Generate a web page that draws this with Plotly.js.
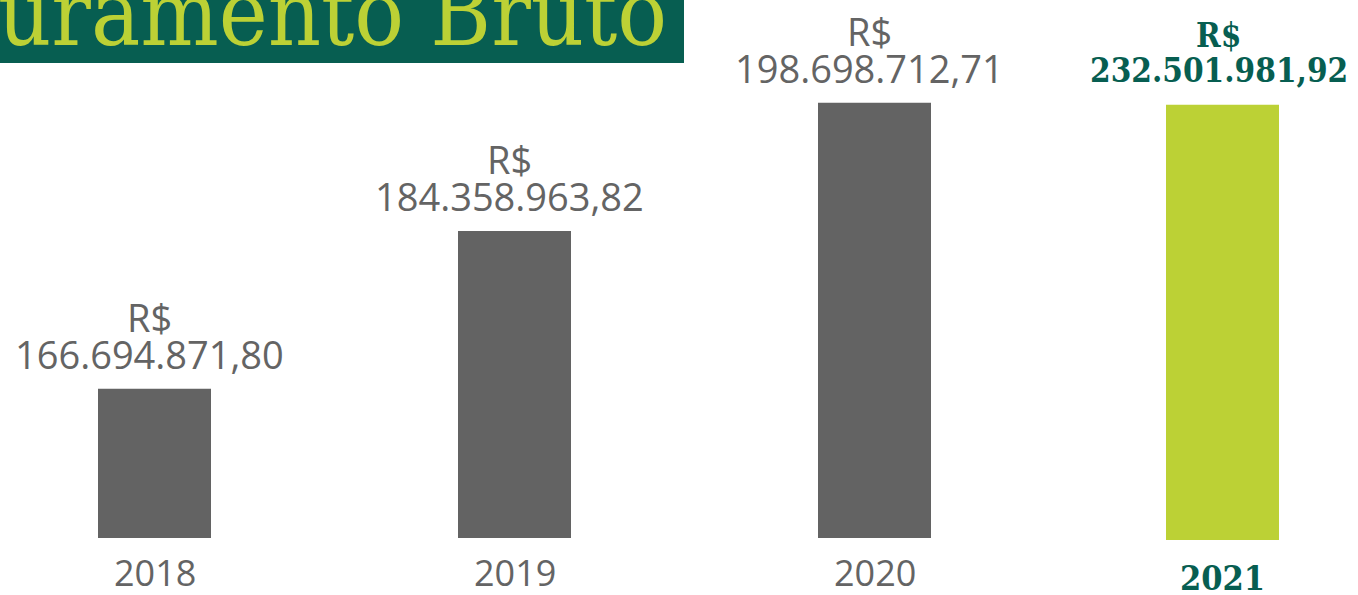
<!DOCTYPE html>
<html>
<head>
<meta charset="utf-8">
<script src="https://cdn.plot.ly/plotly-3.0.1.min.js"></script>
<style>html,body{margin:0;padding:0;background:#fff;overflow:hidden}#chart{width:1358px;height:595px}</style>
</head>
<body>
<div id="chart"></div>
<script>
// ---- data ----
var years = ['2018', '2019', '2020', '2021'];
var revenue = [166694871.80, 184358963.82, 198698712.71, 232501981.92];
var revenueLabels = ['166.694.871,80', '184.358.963,82', '198.698.712,71', '232.501.981,92'];
// height at which each bar is drawn in the original (2021 is drawn at the 2020 level)
var barLevel = [166694871.80, 184358963.82, 198698712.71, 198475000];
var currency = 'R$';
var titleText = 'uramento Bruto';

// ---- style ----
var W = 1358, H = 595;
var gray = '#636363', grayText = '#646464', lime = '#bcd135', green = '#075e51';
var baseVal = 150000000;
var pxPerUnit = 8.937e-6;
var basePx = 538;
var y0 = baseVal - (H - basePx) / pxPerUnit;
var y1 = y0 + H / pxPerUnit;
var catPx = 360, firstPx = 154.5;
var x0 = -firstPx / catPx, x1 = x0 + W / catPx;
var lastShift = -12; // 2021 column sits slightly left of an even spacing
var barW = 113 / catPx;

var n = years.length;
var traces = [
  {
    type: 'bar', x: years.slice(0, n - 1), y: barLevel.slice(0, n - 1).map(function (v) { return v - baseVal; }),
    base: baseVal, width: barW, marker: {color: gray}, hoverinfo: 'skip'
  },
  {
    type: 'bar', x: years.slice(n - 1), y: barLevel.slice(n - 1).map(function (v) { return v - baseVal + 2 / pxPerUnit; }),
    base: baseVal - 2 / pxPerUnit, width: barW, offset: -barW / 2 + lastShift / catPx,
    marker: {color: lime}, hoverinfo: 'skip'
  }
];

var sansFont = '"Open Sans", sans-serif';
var slabBold = '"DejaVu Serif Condensed", "DejaVu Serif", serif';
var ann = [];
years.forEach(function (yr, i) {
  var last = i === n - 1;
  var xs = last ? lastShift : 0;
  var lx = last ? lastShift - 4 : -5;
  var f = last ? {family: slabBold, size: 33, color: green} : {family: sansFont, size: 38, color: grayText};
  ann.push({x: i, y: barLevel[i], xref: 'x', yref: 'y', text: last ? '<b>' + revenueLabels[i] + '</b>' : revenueLabels[i],
    showarrow: false, xanchor: 'center', yanchor: 'middle', yshift: last ? 34 : 35, xshift: lx, font: f});
  ann.push({x: i, y: barLevel[i], xref: 'x', yref: 'y', text: last ? '<b>' + currency + '</b>' : currency,
    showarrow: false, xanchor: 'center', yanchor: 'middle', yshift: last ? 69 : 72, xshift: lx, font: f});
  ann.push({x: i, y: baseVal, xref: 'x', yref: 'y', text: last ? '<b>' + yr + '</b>' : yr,
    showarrow: false, xanchor: 'center', yanchor: 'middle', yshift: last ? -40 : -34, xshift: xs,
    font: last ? {family: slabBold, size: 34, color: green} : {family: sansFont, size: 36, color: grayText}});
});
ann.push({x: 0, y: 1 - 13 / H, xref: 'paper', yref: 'paper', text: titleText, showarrow: false,
  xanchor: 'left', yanchor: 'middle', xshift: -4, font: {family: slabBold, size: 92, color: lime}});

var layout = {
  width: W, height: H, margin: {l: 0, r: 0, t: 0, b: 0},
  paper_bgcolor: '#fff', plot_bgcolor: '#fff', showlegend: false,
  xaxis: {type: 'category', range: [x0, x1], visible: false, fixedrange: true},
  yaxis: {range: [y0, y1], visible: false, fixedrange: true},
  shapes: [{type: 'rect', xref: 'paper', yref: 'paper', x0: 0, x1: 684 / W, y0: 1 - 63 / H, y1: 1,
    fillcolor: green, line: {width: 0}, layer: 'below'}],
  annotations: ann
};
Plotly.newPlot('chart', traces, layout, {displayModeBar: false, staticPlot: true});
</script>
</body>
</html>
